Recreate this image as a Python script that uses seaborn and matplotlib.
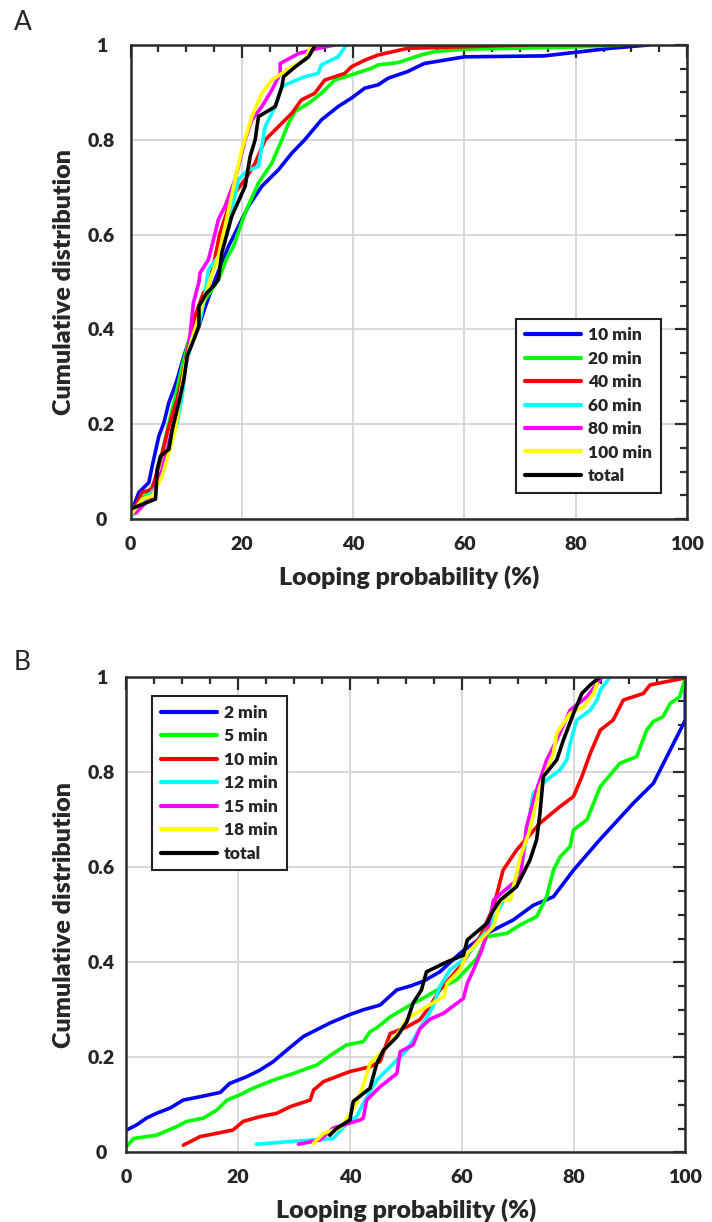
import numpy as np
import pandas as pd
import matplotlib
matplotlib.use("Agg")
import matplotlib.pyplot as plt
from matplotlib.ticker import MultipleLocator
import seaborn as sns

# ---------------- Panel A data ----------------
a_labels = ["10 min", "20 min", "40 min", "60 min", "80 min", "100 min", "total"]
a_colors = ["#0000ff", "#00ff00", "#ff0000", "#00ffff", "#ff00ff", "#ffff00", "#000000"]

a_x_10 = [0, 1.5, 3.3, 3.9, 5.1, 6.0, 6.9, 7.8, 8.4, 9.6, 10.8, 12.3, 13.5, 15.2, 17.6, 19.4, 21.2,
          23.6, 26.6, 29.0, 31.3, 34.3, 37.3, 39.7, 42.1, 44.5, 46.3, 49.8, 52.8, 56.4, 60.0, 74.3,
          80.3, 86.2, 93.1]
a_y_10 = [0.01, 0.056, 0.077, 0.112, 0.175, 0.203, 0.246, 0.274, 0.295, 0.344, 0.386, 0.407, 0.45,
          0.505, 0.575, 0.6175, 0.66, 0.702, 0.737, 0.772, 0.80, 0.842, 0.87, 0.888, 0.909, 0.916,
          0.93, 0.944, 0.961, 0.968, 0.975, 0.977, 0.985, 0.993, 1.0]

a_x_20 = [0, 0.3, 3.3, 4.5, 5.7, 6.9, 8.1, 9.3, 10.4, 11.6, 13.4, 15.8, 17.3, 18.5, 20.6, 23.0, 25.4,
          27.2, 28.4, 29.6, 32.0, 34.3, 36.7, 39.7, 43.3, 44.5, 48.1, 52.2, 54.6, 60.0, 80.3, 88.3]
a_y_20 = [0.01, 0.021, 0.056, 0.084, 0.14, 0.203, 0.26, 0.323, 0.372, 0.421, 0.463, 0.505, 0.55,
          0.575, 0.646, 0.709, 0.751, 0.80, 0.835, 0.86, 0.877, 0.898, 0.926, 0.937, 0.951, 0.958,
          0.963, 0.979, 0.986, 0.991, 0.996, 1.0]

a_x_40 = [0.3, 2.1, 3.9, 5.7, 6.9, 8.4, 9.6, 10.4, 11.6, 13.1, 14.0, 15.0, 16.0, 18.2, 20.6, 22.4,
          24.2, 26.6, 29.0, 30.7, 33.1, 34.9, 38.5, 39.7, 42.1, 44.5, 49.8, 71.0]
a_y_40 = [0.012, 0.056, 0.063, 0.14, 0.196, 0.253, 0.316, 0.365, 0.428, 0.477, 0.491, 0.54, 0.60,
          0.68, 0.716, 0.751, 0.80, 0.828, 0.856, 0.884, 0.898, 0.926, 0.94, 0.954, 0.968, 0.979,
          0.993, 1.0]

a_x_60 = [0.5, 2.7, 4.8, 6.0, 7.2, 8.4, 9.3, 9.9, 10.8, 12.3, 13.2, 14.0, 15.8, 17.6, 19.4, 21.0,
          23.0, 24.2, 26.0, 27.2, 28.4, 31.3, 33.7, 34.3, 37.3, 38.8]
a_y_60 = [0.01, 0.042, 0.07, 0.112, 0.154, 0.203, 0.26, 0.323, 0.365, 0.407, 0.46, 0.526, 0.554,
          0.6175, 0.716, 0.735, 0.744, 0.828, 0.87, 0.912, 0.919, 0.933, 0.94, 0.958, 0.975, 1.0]

a_x_80 = [0.9, 3.9, 5.7, 6.9, 8.1, 9.3, 10.4, 11.0, 11.3, 12.3, 12.5, 14.0, 15.2, 15.8, 17.0, 18.8,
          20.6, 21.8, 23.6, 25.4, 26.9, 26.9, 30.2, 33.7, 36.7]
a_y_80 = [0.012, 0.049, 0.105, 0.161, 0.218, 0.288, 0.358, 0.421, 0.456, 0.5, 0.519, 0.547, 0.603,
          0.632, 0.66, 0.716, 0.80, 0.842, 0.87, 0.905, 0.94, 0.961, 0.982, 0.993, 1.0]

a_x_100 = [0.3, 2.1, 3.9, 5.7, 6.9, 8.1, 9.0, 9.9, 11.0, 12.3, 13.4, 14.3, 15.8, 17.0, 18.8, 20.0,
           21.8, 23.6, 25.4, 29.0, 31.3, 32.5]
a_y_100 = [0.012, 0.042, 0.049, 0.091, 0.14, 0.189, 0.267, 0.33, 0.379, 0.428, 0.47, 0.505, 0.554,
           0.6175, 0.716, 0.779, 0.849, 0.898, 0.926, 0.954, 0.968, 1.0]

a_x_total = [0, 4.5, 4.8, 5.4, 6.9, 7.5, 8.7, 9.6, 10.2, 11.4, 12.3, 12.3, 13.7, 14.9, 15.8, 16.4,
             18.2, 20.6, 21.5, 22.4, 23.0, 26.0, 27.2, 27.5, 29.6, 32.0, 33.2]
a_y_total = [0.021, 0.042, 0.105, 0.133, 0.147, 0.189, 0.246, 0.295, 0.344, 0.379, 0.407, 0.449,
             0.477, 0.491, 0.505, 0.561, 0.639, 0.702, 0.765, 0.80, 0.849, 0.870, 0.912, 0.933,
             0.954, 0.975, 1.0]

# ---------------- Panel B data ----------------
b_labels = ["2 min", "5 min", "10 min", "12 min", "15 min", "18 min", "total"]
b_colors = ["#0000ff", "#00ff00", "#ff0000", "#00ffff", "#ff00ff", "#ffff00", "#000000"]

b_x_2 = [0.07, 1.9, 3.6, 5.4, 7.8, 10.2, 13.2, 16.8, 18.5, 21.5, 23.9, 26.3, 28.7, 31.7, 36.4, 40.0,
         42.4, 45.4, 48.4, 50.8, 53.1, 56.1, 59.7, 64.5, 69.2, 72.8, 76.4, 80.0, 84.7, 90.7, 94.3,
         96.7, 98.5, 100, 100]
b_y_2 = [0.047, 0.058, 0.072, 0.082, 0.093, 0.11, 0.117, 0.126, 0.145, 0.159, 0.173, 0.191, 0.215,
         0.244, 0.272, 0.29, 0.30, 0.31, 0.342, 0.35, 0.36, 0.38, 0.419, 0.461, 0.489, 0.52, 0.538,
         0.594, 0.658, 0.735, 0.777, 0.833, 0.875, 0.91, 1.0]

b_x_5 = [0.07, 1.3, 5.4, 9.0, 10.8, 13.8, 16.2, 18.0, 20.3, 22.7, 26.3, 29.9, 34.1, 37.0, 39.4, 42.4,
         43.6, 44.8, 47.2, 50.8, 52.6, 56.1, 59.1, 62.7, 64.5, 68.1, 70.5, 73.4, 75.2, 76.4, 77.6,
         79.4, 80.0, 82.4, 84.8, 88.3, 91.3, 93.1, 94.3, 96.0, 97.3, 99.0, 100]
b_y_5 = [0.012, 0.029, 0.036, 0.054, 0.065, 0.072, 0.089, 0.11, 0.121, 0.135, 0.152, 0.166, 0.184,
         0.208, 0.226, 0.233, 0.254, 0.262, 0.285, 0.31, 0.321, 0.345, 0.363, 0.408, 0.454, 0.461,
         0.479, 0.496, 0.538, 0.594, 0.622, 0.644, 0.679, 0.70, 0.77, 0.819, 0.833, 0.889, 0.907,
         0.917, 0.945, 0.959, 0.998]

b_x_10 = [10.2, 13.2, 16.2, 19.1, 20.9, 23.9, 26.9, 29.3, 32.9, 33.5, 35.3, 40.0, 43.6, 45.4, 47.2,
          50.2, 52.5, 54.3, 56.1, 59.7, 63.3, 65.7, 67.4, 69.8, 74.0, 77.6, 80.0, 81.5, 83.0, 84.8,
          87.1, 88.9, 92.5, 93.7, 99.7]
b_y_10 = [0.015, 0.033, 0.04, 0.047, 0.065, 0.075, 0.082, 0.096, 0.11, 0.131, 0.149, 0.17, 0.18,
          0.191, 0.25, 0.264, 0.279, 0.307, 0.342, 0.391, 0.454, 0.517, 0.594, 0.636, 0.693, 0.728,
          0.749, 0.791, 0.84, 0.889, 0.91, 0.952, 0.966, 0.984, 0.998]

b_x_12 = [23.3, 28.7, 37.0, 38.2, 39.4, 41.2, 42.4, 44.8, 48.4, 50.2, 52.5, 54.9, 56.1, 57.9, 60.3,
          62.7, 64.5, 66.3, 67.5, 68.7, 70.5, 71.6, 72.8, 75.2, 77.6, 78.8, 79.4, 80.6, 83.0, 84.2,
          84.8, 86.5]
b_y_12 = [0.017, 0.022, 0.029, 0.044, 0.061, 0.075, 0.103, 0.152, 0.194, 0.215, 0.26, 0.307, 0.349,
          0.384, 0.405, 0.44, 0.468, 0.503, 0.531, 0.552, 0.587, 0.665, 0.756, 0.784, 0.805, 0.826,
          0.861, 0.91, 0.931, 0.952, 0.973, 1.0]

b_x_15 = [30.8, 34.7, 37.0, 41.8, 42.4, 43.0, 45.4, 48.4, 49.0, 51.3, 52.5, 54.3, 56.8, 60.3, 61.0,
          62.1, 63.6, 64.5, 65.1, 65.7, 70.5, 71.6, 73.4, 75.2, 77.0, 79.4, 82.4, 84.2, 85.1]
b_y_15 = [0.017, 0.026, 0.051, 0.068, 0.072, 0.11, 0.138, 0.166, 0.212, 0.226, 0.26, 0.28, 0.293,
          0.324, 0.356, 0.384, 0.426, 0.461, 0.496, 0.531, 0.58, 0.686, 0.763, 0.826, 0.868, 0.931,
          0.959, 0.987, 1.0]

b_x_18 = [33.5, 35.3, 38.2, 39.4, 41.2, 42.1, 43.6, 46.6, 49.0, 50.2, 51.4, 53.8, 56.8, 57.4, 59.7,
          61.0, 63.9, 65.7, 66.9, 68.7, 70.5, 72.2, 74.0, 76.4, 77.0, 79.4, 81.8, 83.6, 84.2]
b_y_18 = [0.019, 0.04, 0.051, 0.07, 0.103, 0.131, 0.187, 0.222, 0.257, 0.28, 0.29, 0.307, 0.328,
          0.356, 0.384, 0.419, 0.454, 0.475, 0.531, 0.531, 0.622, 0.679, 0.77, 0.84, 0.882, 0.924,
          0.938, 0.966, 0.987]

b_x_total = [36.4, 37.6, 40.0, 40.6, 43.6, 44.8, 46.0, 48.4, 50.2, 51.3, 52.8, 53.7, 57.4, 60.3,
             61.0, 64.5, 65.7, 66.9, 69.8, 72.2, 73.4, 74.0, 74.6, 77.0, 78.2, 80.0, 81.5, 83.0,
             84.7]
b_y_total = [0.036, 0.05, 0.068, 0.107, 0.135, 0.187, 0.215, 0.243, 0.275, 0.314, 0.342, 0.38,
             0.401, 0.415, 0.447, 0.482, 0.51, 0.531, 0.559, 0.615, 0.658, 0.714, 0.791, 0.826,
             0.868, 0.924, 0.966, 0.984, 1.0]

a_xs = [a_x_10, a_x_20, a_x_40, a_x_60, a_x_80, a_x_100, a_x_total]
a_ys = [a_y_10, a_y_20, a_y_40, a_y_60, a_y_80, a_y_100, a_y_total]
b_xs = [b_x_2, b_x_5, b_x_10, b_x_12, b_x_15, b_x_18, b_x_total]
b_ys = [b_y_2, b_y_5, b_y_10, b_y_12, b_y_15, b_y_18, b_y_total]

x_ticks = [0, 20, 40, 60, 80, 100]
y_ticks = [0, 0.2, 0.4, 0.6, 0.8, 1]
y_ticklabels = ["0", "0.2", "0.4", "0.6", "0.8", "1"]


def long_df(labels, xs, ys):
    rows = []
    for lab, x, y in zip(labels, xs, ys):
        for i, (xi, yi) in enumerate(zip(x, y)):
            rows.append((lab, i, xi, yi))
    return pd.DataFrame(rows, columns=["series", "order", "x", "y"])


sns.set_style("white")
FAM = ["Lato", "DejaVu Sans"]
WT = "heavy"
plt.rcParams["font.family"] = FAM
plt.rcParams["font.weight"] = WT

fig = plt.figure(figsize=(7.12, 12.22), dpi=100)
axA = fig.add_axes([130.5 / 712, 1 - 519 / 1222, 556.5 / 712, 474 / 1222])
axB = fig.add_axes([126.3 / 712, 1 - 1152.3 / 1222, 559 / 712, 475 / 1222])

spine_col = "#2b2b2b"


def style_axes(ax, ypad):
    ax.set_xlim(0, 100)
    ax.set_ylim(0, 1)
    ax.set_xticks(x_ticks)
    ax.set_xticklabels([str(t) for t in x_ticks])
    ax.set_yticks(y_ticks)
    ax.set_yticklabels(y_ticklabels, ha="center")
    ax.xaxis.set_minor_locator(MultipleLocator(5))
    ax.yaxis.set_minor_locator(MultipleLocator(0.05))
    ax.grid(True, which="major", color="#d6d6d6", lw=1.3)
    ax.set_axisbelow(True)
    ax.tick_params(which="both", direction="in", top=True, right=True, color=spine_col,
                   width=1.6, labelsize=14)
    ax.tick_params(axis="y", pad=ypad)
    ax.tick_params(axis="x", pad=12)
    ax.tick_params(which="major", length=9)
    ax.tick_params(which="minor", length=5)
    for lab in ax.get_xticklabels() + ax.get_yticklabels():
        lab.set_fontweight(WT)
    for s in ax.spines.values():
        s.set_color(spine_col)
        s.set_linewidth(1.8)
    ax.set_xlabel("Looping probability (%)", fontsize=18, fontweight=WT, labelpad=9)
    ax.set_ylabel("Cumulative distribution", fontsize=18, fontweight=WT, labelpad=9)


for ax, labels, colors, xs, ys, ypad in [(axA, a_labels, a_colors, a_xs, a_ys, 21),
                                         (axB, b_labels, b_colors, b_xs, b_ys, 18)]:
    df = long_df(labels, xs, ys)
    sns.lineplot(data=df, x="x", y="y", hue="series", hue_order=labels,
                 palette=dict(zip(labels, colors)), sort=False, estimator=None,
                 lw=2.6, ax=ax)
    style_axes(ax, ypad)

for ax, loc, anchor in [(axA, "lower right", (0.953, 0.0555)),
                        (axB, "upper left", (0.046, 0.96))]:
    handles, labels = ax.get_legend_handles_labels()
    if ax.get_legend() is not None:
        ax.get_legend().remove()
    for h in handles:
        h.set_linewidth(3)
    leg = ax.legend(handles, labels, loc=loc, bbox_to_anchor=anchor, borderaxespad=0,
                    fancybox=False, framealpha=1, edgecolor="#222222",
                    prop={"family": FAM, "weight": WT, "size": 12.5},
                    handlelength=3.25, handletextpad=0.4, labelspacing=0.43,
                    borderpad=0.5)
    leg.get_frame().set_linewidth(1.5)

fig.text(14 / 712, 1 - 22 / 1222, "A", fontsize=19, fontweight="normal", va="center", ha="left")
fig.text(14 / 712, 1 - 662 / 1222, "B", fontsize=19, fontweight="normal", va="center", ha="left")

fig.savefig("out.png", dpi=100)
